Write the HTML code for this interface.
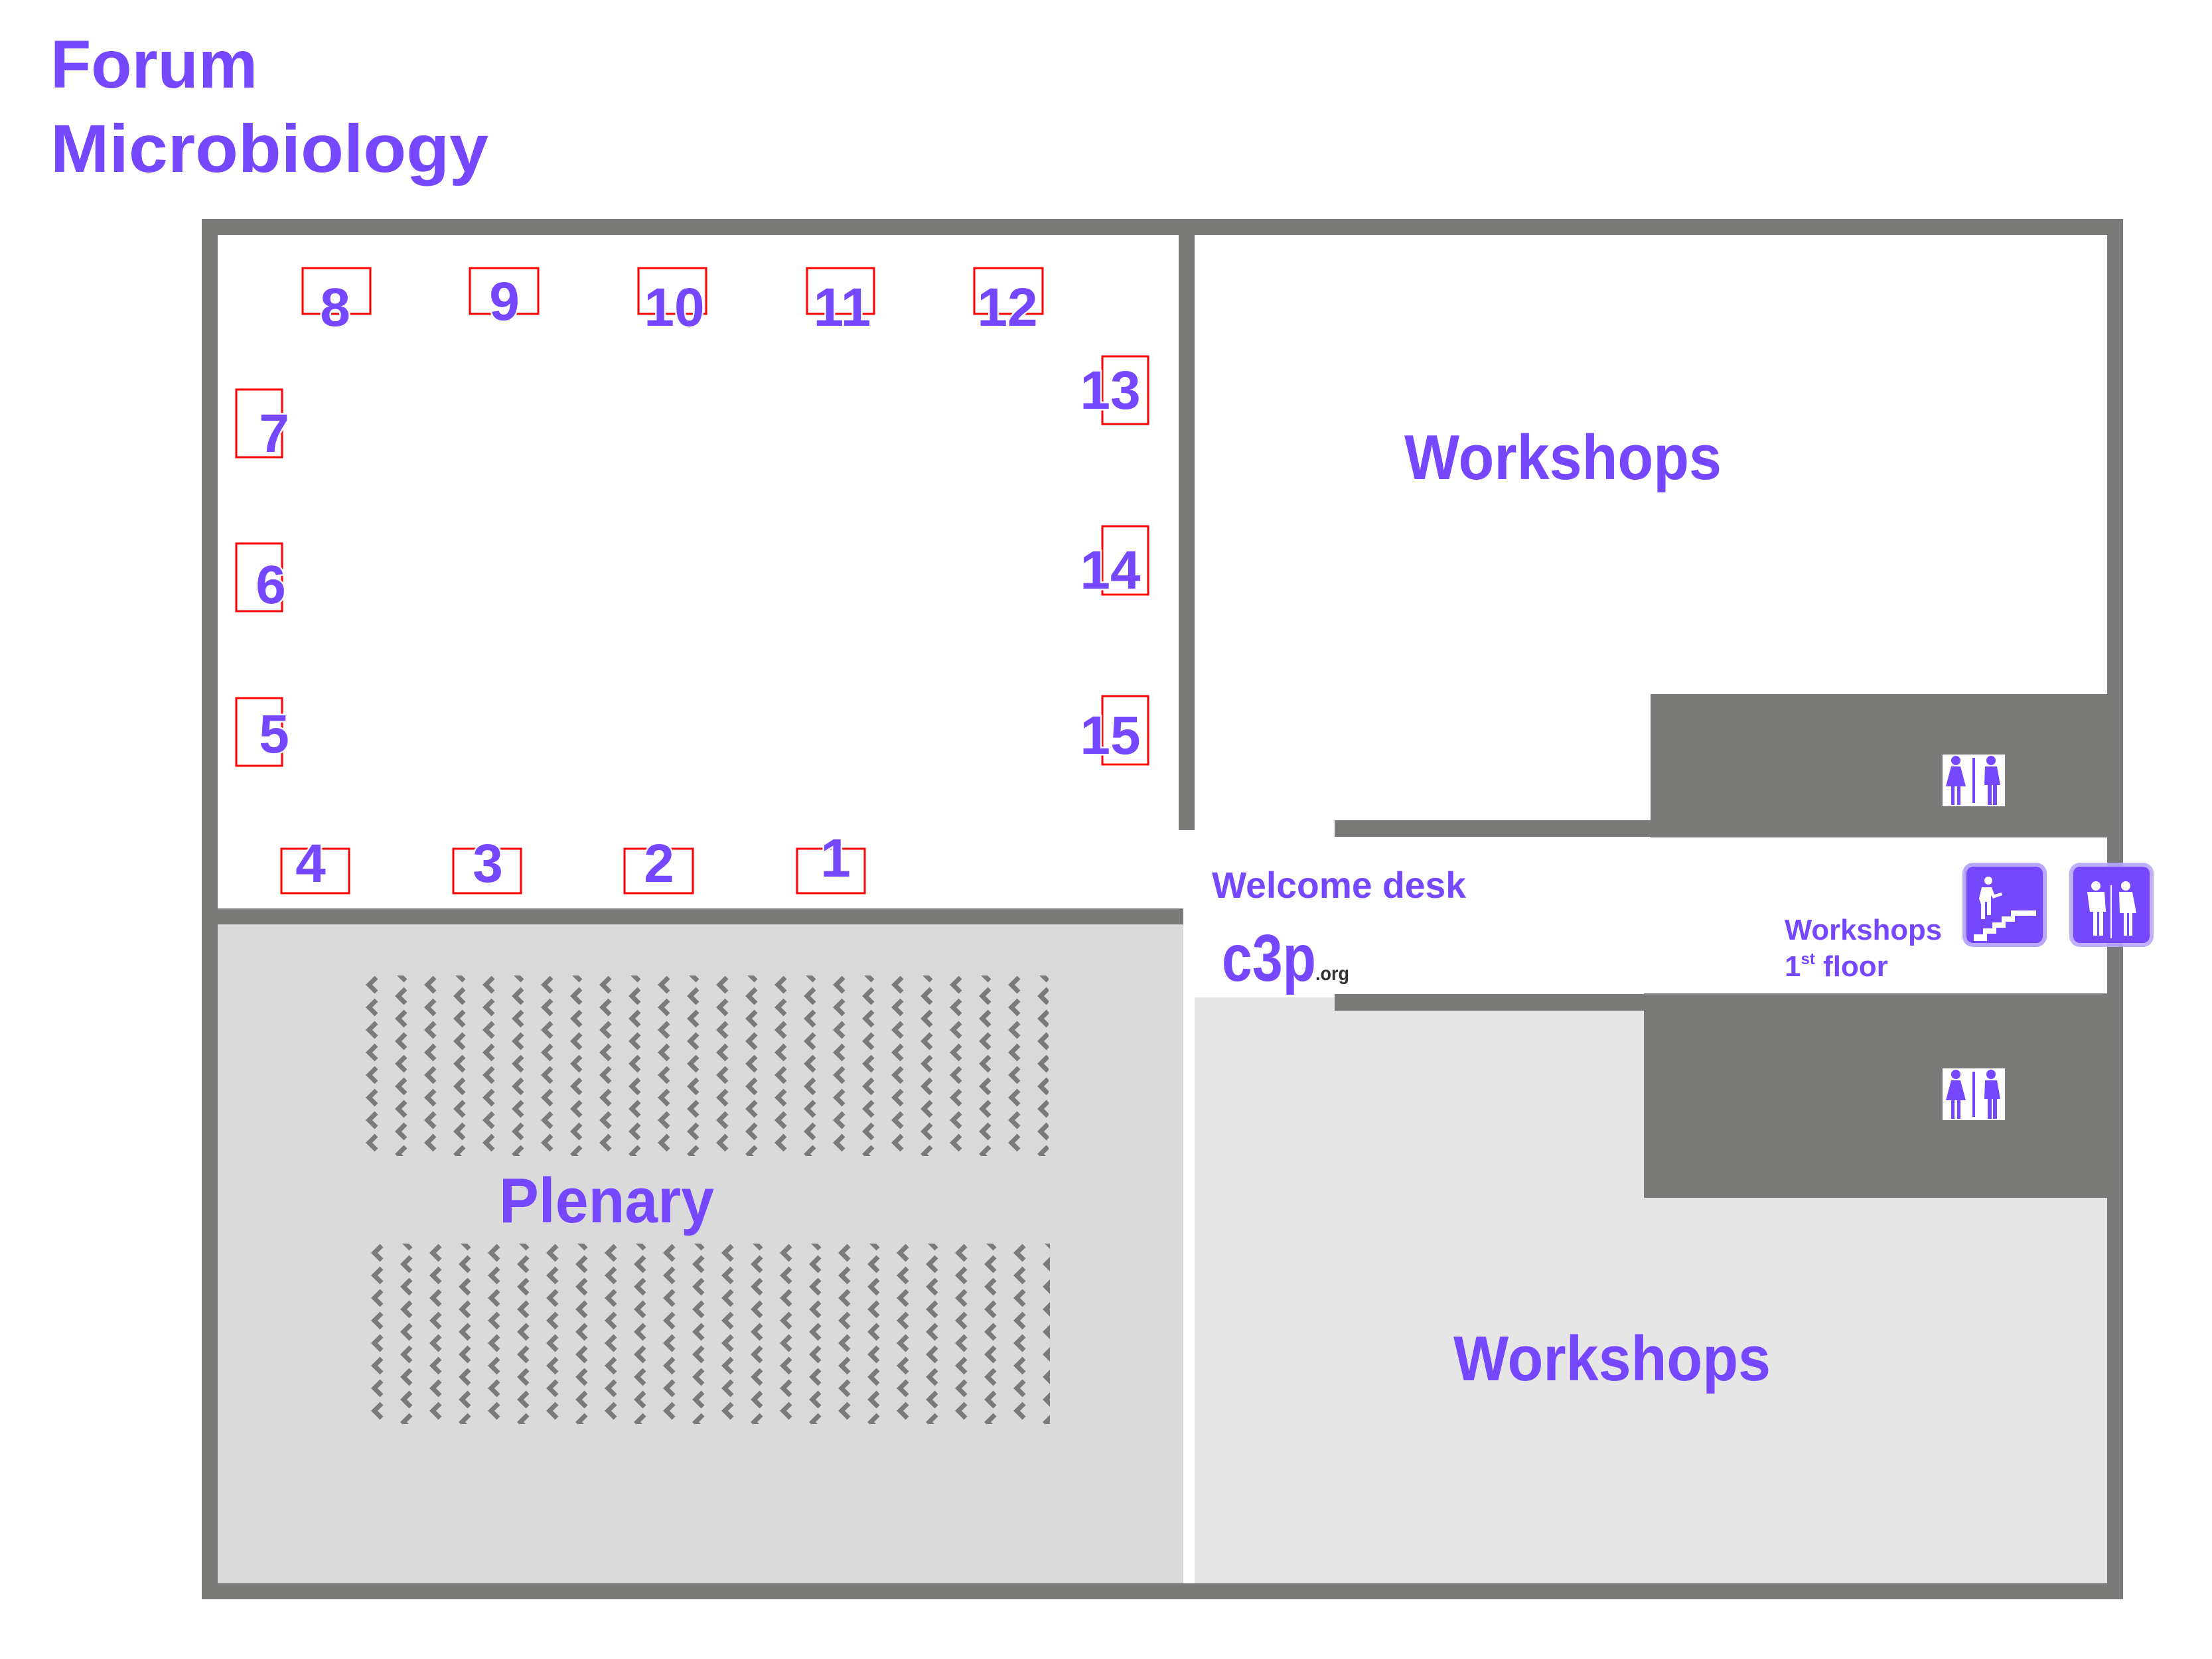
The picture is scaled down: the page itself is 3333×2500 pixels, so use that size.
<!DOCTYPE html>
<html><head><meta charset="utf-8"><style>
html,body{margin:0;padding:0;background:#fff;}
svg{display:block;}
text{font-family:"Liberation Sans",sans-serif;font-weight:bold;}
</style></head><body>
<svg width="3333" height="2500" viewBox="0 0 3333 2500" xmlns="http://www.w3.org/2000/svg">
<defs>
<pattern id="chairs1" x="546" y="1470" width="88" height="34" patternUnits="userSpaceOnUse">
<polyline points="21,3 10,14 21,25" fill="none" stroke="#7a7a7a" stroke-width="7"/>
<polyline points="65,-14 54,-3 65,8" fill="none" stroke="#7a7a7a" stroke-width="7"/>
<polyline points="65,20 54,31 65,42" fill="none" stroke="#7a7a7a" stroke-width="7"/>
</pattern>
<pattern id="chairs2" x="554" y="1874" width="88" height="34" patternUnits="userSpaceOnUse">
<polyline points="21,3 10,14 21,25" fill="none" stroke="#7a7a7a" stroke-width="7"/>
<polyline points="65,-14 54,-3 65,8" fill="none" stroke="#7a7a7a" stroke-width="7"/>
<polyline points="65,20 54,31 65,42" fill="none" stroke="#7a7a7a" stroke-width="7"/>
</pattern>
</defs>
<rect width="3333" height="2500" fill="#fff"/>
<!-- title -->
<text x="76" y="132" font-size="102" fill="#7547ff" textLength="312" lengthAdjust="spacingAndGlyphs">Forum</text>
<text x="76" y="259" font-size="102" fill="#7547ff" textLength="660" lengthAdjust="spacingAndGlyphs">Microbiology</text>

<!-- floors -->
<rect x="328" y="1393" width="1455" height="995" fill="#dadada"/>
<rect x="1800" y="1503" width="1375" height="885" fill="#e6e6e6"/>

<!-- outer walls -->
<rect x="304" y="330" width="2895" height="24" fill="#7a7b78"/>
<rect x="304" y="2386" width="2895" height="24" fill="#7a7b78"/>
<rect x="304" y="330" width="24" height="2080" fill="#7a7b78"/>
<rect x="3175" y="330" width="24" height="2080" fill="#7a7b78"/>
<!-- inner walls -->
<rect x="1776" y="354" width="24" height="897" fill="#7a7b78"/>
<rect x="328" y="1369" width="1455" height="24" fill="#7a7b78"/>
<rect x="2011" y="1236" width="480" height="25" fill="#7a7b78"/>
<rect x="2487" y="1046" width="690" height="216" fill="#7a7b78"/>
<rect x="2011" y="1498" width="470" height="25" fill="#7a7b78"/>
<rect x="2477" y="1497" width="700" height="308" fill="#7a7b78"/>

<!-- chairs -->
<rect x="546" y="1470" width="1034" height="272" fill="url(#chairs1)"/>
<rect x="554" y="1874" width="1028" height="272" fill="url(#chairs2)"/>

<!-- labels -->
<text x="752" y="1842" font-size="96" fill="#7547ff" textLength="324" lengthAdjust="spacingAndGlyphs">Plenary</text>
<text x="2116" y="722" font-size="96" fill="#7547ff" textLength="478" lengthAdjust="spacingAndGlyphs">Workshops</text>
<text x="2190" y="2080" font-size="96" fill="#7547ff" textLength="478" lengthAdjust="spacingAndGlyphs">Workshops</text>
<text x="1826" y="1353" font-size="56" fill="#7547ff" textLength="383" lengthAdjust="spacingAndGlyphs">Welcome desk</text>
<text x="2689" y="1416" font-size="44" fill="#7547ff" textLength="237" lengthAdjust="spacingAndGlyphs">Workshops</text>
<text x="2689" y="1471" font-size="44" fill="#7547ff">1<tspan font-size="24" dy="-18">st</tspan><tspan dy="18"> floor</tspan></text>

<!-- logo -->
<text x="1841" y="1478" font-size="100" fill="#7547ff" textLength="142" lengthAdjust="spacingAndGlyphs">c3p</text>
<text x="1982" y="1477" font-size="30" fill="#333" textLength="51" lengthAdjust="spacingAndGlyphs">.org</text>

<!-- booths -->
<g fill="none" stroke="#ff0000" stroke-width="3">
<rect x="456" y="404" width="102" height="69"/>
<rect x="708" y="404" width="103" height="69"/>
<rect x="962" y="404" width="102" height="69"/>
<rect x="1216" y="404" width="101" height="69"/>
<rect x="1468" y="404" width="103" height="69"/>
<rect x="1661" y="537" width="69" height="102"/>
<rect x="1661" y="793" width="69" height="103"/>
<rect x="1661" y="1049" width="69" height="103"/>
<rect x="356" y="587" width="69" height="102"/>
<rect x="356" y="819" width="69" height="102"/>
<rect x="356" y="1052" width="69" height="102"/>
<rect x="424" y="1279" width="102" height="67"/>
<rect x="683" y="1279" width="102" height="67"/>
<rect x="941" y="1279" width="103" height="67"/>
<rect x="1201" y="1279" width="102" height="67"/>
</g>
<g font-size="82" fill="#7547ff" text-anchor="middle" stroke="#fff" stroke-width="5" paint-order="stroke">
<text x="505" y="491">8</text>
<text x="760" y="482">9</text>
<text x="1016" y="491">10</text>
<text x="1269" y="491">11</text>
<text x="1518" y="491">12</text>
<text x="1673" y="616">13</text>
<text x="1673" y="887">14</text>
<text x="1673" y="1136">15</text>
<text x="413" y="681">7</text>
<text x="408" y="909">6</text>
<text x="413" y="1134">5</text>
<text x="468" y="1329">4</text>
<text x="735" y="1329">3</text>
<text x="993" y="1329">2</text>
<text x="1259" y="1321">1</text>
</g>

<!-- toilets -->
<g>
<rect x="2927" y="1137" width="94" height="78" fill="#fff"/>
<g fill="#7547ff">
<circle cx="2947" cy="1146" r="7"/><path d="M2940 1155h14l8 30h-8v28h-5v-28h-4v28h-5v-28h-8z"/>
<rect x="2972" y="1142" width="4" height="68"/>
<circle cx="3000" cy="1146" r="7"/><path d="M2991 1155h18l5 28h-5v30h-6v-30h-2v30h-6v-30h-5z"/>
</g></g>
<g transform="translate(0,473)">
<rect x="2927" y="1137" width="94" height="78" fill="#fff"/>
<g fill="#7547ff">
<circle cx="2947" cy="1146" r="7"/><path d="M2940 1155h14l8 30h-8v28h-5v-28h-4v28h-5v-28h-8z"/>
<rect x="2972" y="1142" width="4" height="68"/>
<circle cx="3000" cy="1146" r="7"/><path d="M2991 1155h18l5 28h-5v30h-6v-30h-2v30h-6v-30h-5z"/>
</g></g>

<!-- stairs icon -->
<rect x="2957" y="1300" width="127" height="127" rx="16" fill="#b8a6ff"/>
<rect x="2963" y="1306" width="115" height="115" rx="10" fill="#7547ff"/>
<g fill="#fff">
<circle cx="2996" cy="1327" r="6"/>
<path d="M2986 1337h15l4 11 11-3 1 4-14 5-3-5v30h-6v-20h-3v26h-6v-22l-3-9z"/>
<path d="M2974 1418V1408H2988V1399H3002V1390H3016V1381H3030V1372H3068V1380H3036V1389H3022V1398H3008V1407H2994V1418Z"/>
</g>
<!-- elevator icon -->
<rect x="3118" y="1300" width="127" height="127" rx="16" fill="#b8a6ff" fill-opacity="0.9"/>
<rect x="3124" y="1306" width="115" height="115" rx="10" fill="#7547ff"/>
<g fill="#fff">
<circle cx="3158" cy="1335" r="7"/><path d="M3145 1344h26l2 30h-4v36h-6v-36h-3v36h-6v-36h-5z"/>
<circle cx="3203" cy="1335" r="7"/><path d="M3193 1344h20l6 32h-6v34h-5v-34h-3v34h-5v-34h-6z"/>
<rect x="3180" y="1334" width="2" height="80"/>
</g>
</svg>
</body></html>
